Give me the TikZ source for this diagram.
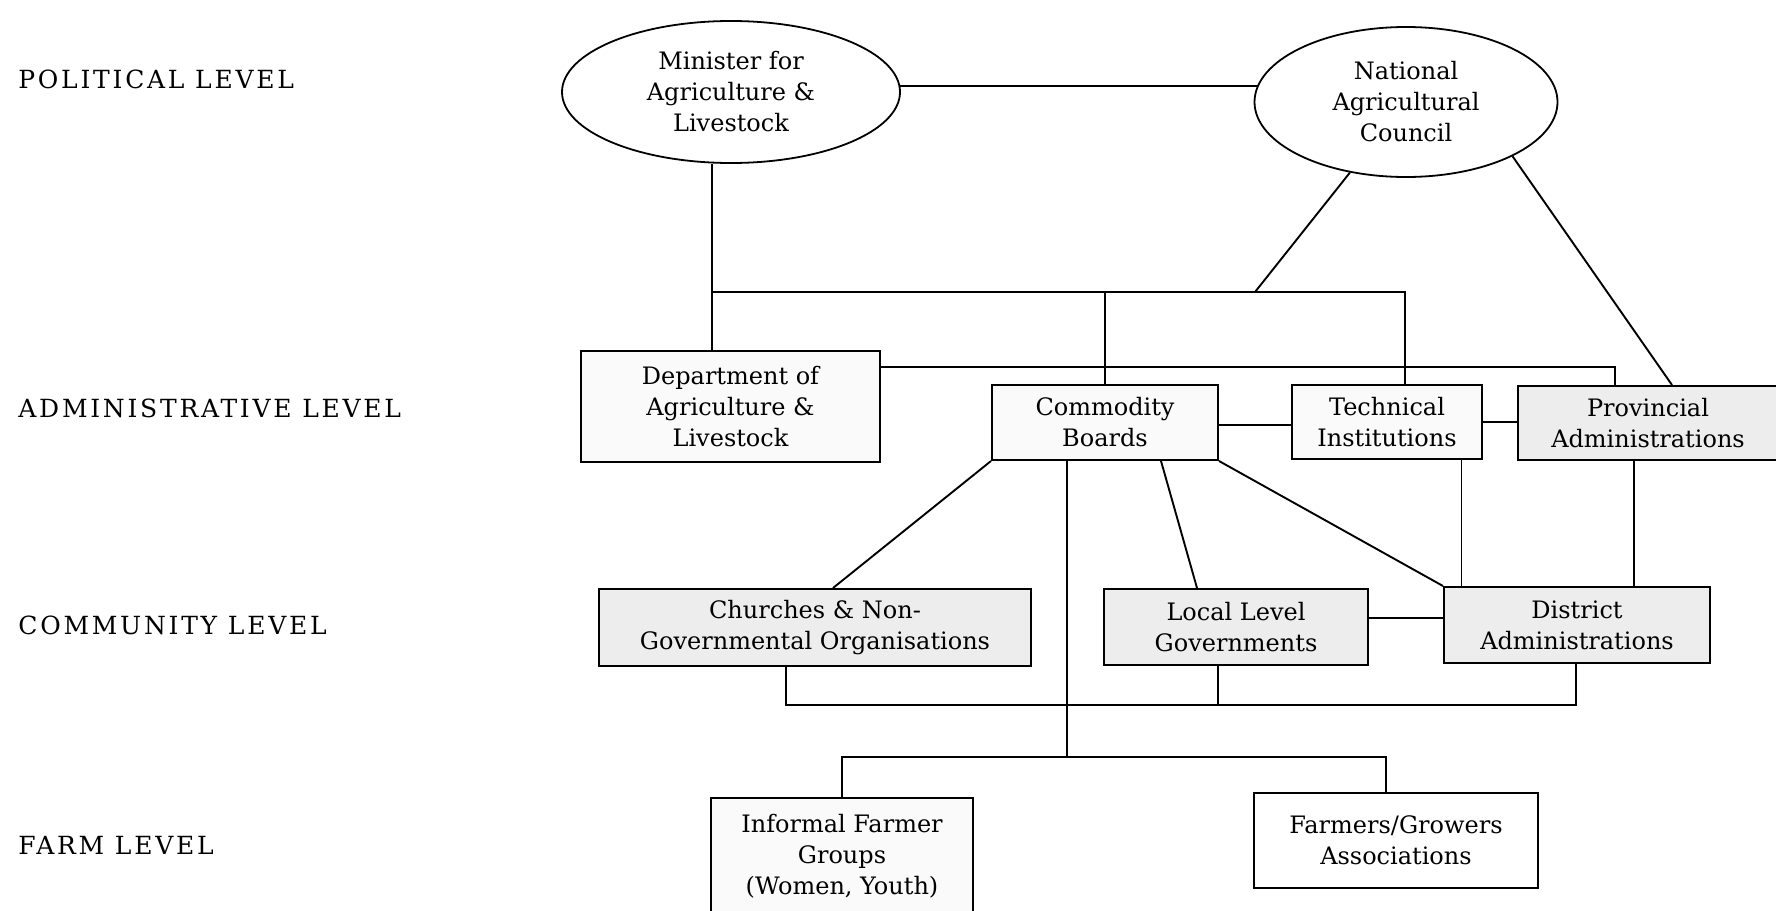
\documentclass[tikz,border=0pt]{standalone}
\usepackage{fontspec}
\setmainfont{DejaVu Serif}
\usetikzlibrary{shapes.geometric}
\begin{document}
\begin{tikzpicture}[x=0.5pt,y=-0.5pt,
  every node/.style={font=\fontsize{12}{15.5}\selectfont, align=center, inner sep=0pt},
  lvl/.style={anchor=west, font=\fontsize{12.5}{14}\selectfont\addfontfeature{LetterSpace=11}},
  oval/.style={draw, ellipse, line width=0.9pt},
  box/.style={draw, rectangle, line width=1pt},
  dotted box/.style={box, fill=black!7},
  light box/.style={box, fill=black!2},
  link/.style={line width=0.95pt},
  thinlink/.style={line width=0.5pt}]
\useasboundingbox (0,0) rectangle (1776,910);

% level labels
\node[lvl] (lp) at (18,79) {POLITICAL LEVEL};
\node[lvl] (la) at (18,408) {ADMINISTRATIVE LEVEL};
\node[lvl] (lc) at (18,625) {COMMUNITY LEVEL};
\node[lvl] (lf) at (18,845) {FARM LEVEL};

% political
\node[oval, minimum width=169pt, minimum height=71pt] (M) at (731,92) {Minister for\\Agriculture \&\\Livestock};
\node[oval, minimum width=151.5pt, minimum height=75pt] (N) at (1406,102) {National\\Agricultural\\Council};

% administrative
\node[light box, minimum width=149.5pt, minimum height=55.5pt] (D) at (730.5,406.5) {Department of\\Agriculture \&\\Livestock};
\node[light box, minimum width=113pt, minimum height=37.5pt] (C) at (1105,422.5) {Commodity\\Boards};
\node[light box, minimum width=95pt, minimum height=37pt] (T) at (1387,422) {Technical\\Institutions};
\node[dotted box, minimum width=130pt, minimum height=37pt] (P) at (1648,423) {Provincial\\Administrations};

% community
\node[dotted box, minimum width=216pt, minimum height=38.5pt] (Ch) at (815,627.5) {Churches \& Non-\\Governmental Organisations};
\node[dotted box, minimum width=132pt, minimum height=38pt] (L) at (1236,627) {Local Level\\Governments};
\node[dotted box, minimum width=133pt, minimum height=38pt] (Di) at (1577,625) {District\\Administrations};

% farm
\node[light box, minimum width=131pt, minimum height=58.5pt] (I) at (842,856.5) {Informal Farmer\\Groups\\(Women, Youth)};
\node[box, minimum width=142pt, minimum height=47.5pt] (F) at (1396,840.5) {Farmers/Growers\\Associations};

% coordinates
\coordinate (bl) at (712,292);
\coordinate (br) at (1405,292);
\coordinate (nb) at (1255,292);
\coordinate (pn) at (1672,386);
\coordinate (dp) at (1615,367);
\coordinate (chn) at (833,589);
\coordinate (cv) at (1067,757);
\coordinate (cl1) at (1161,460);
\coordinate (cl2) at (1197,589);
\coordinate (tdx) at (1461,500);
\coordinate (pdx) at (1634,500);
\coordinate (ld) at (1300,618);
\coordinate (ct) at (1200,425);
\coordinate (cb1) at (786,705);
\coordinate (cb2) at (1218,705);
\coordinate (cb3) at (1576,705);
\coordinate (fl) at (842,757);
\coordinate (fr) at (1386,757);

% political links
\draw[link] (M.2) -- (M.2 -| N.173);
\draw[link] (M.south -| bl) -- (D.north -| bl);
\draw[link] (bl) -- (br) -- (T.north -| br);
\draw[link] (C.north) -- (C.north |- bl);
\draw[link] (N) -- (nb);
\draw[link] (N.-27) -- (P.north -| pn);

% administrative links
\draw[link] (D.east |- dp) -- (dp) -- (P.north -| dp);
\draw[link] (C.east |- ct) -- (T.west |- ct);
\draw[link] (T.east) -- (T.east -| P.west);

% to community
\draw[link] (C.south west) -- (Ch.north -| chn);
\draw[link] (C.south -| cl1) -- (L.north -| cl2);
\draw[link] (C.south east) -- (Di.north west);
\draw[thinlink] (T.south -| tdx) -- (Di.north -| tdx);
\draw[link] (P.south -| pdx) -- (Di.north -| pdx);
\draw[link] (L.east |- ld) -- (Di.west |- ld);

% community bus
\draw[link] (Ch.south -| cb1) -- (cb1) -- (cb3) -- (Di.south -| cb3);
\draw[link] (L.south -| cb2) -- (cb2);

% to farm
\draw[link] (C.south -| cv) -- (cv);
\draw[link] (I.north -| fl) -- (fl) -- (fr) -- (F.north -| fr);
\end{tikzpicture}
\end{document}
